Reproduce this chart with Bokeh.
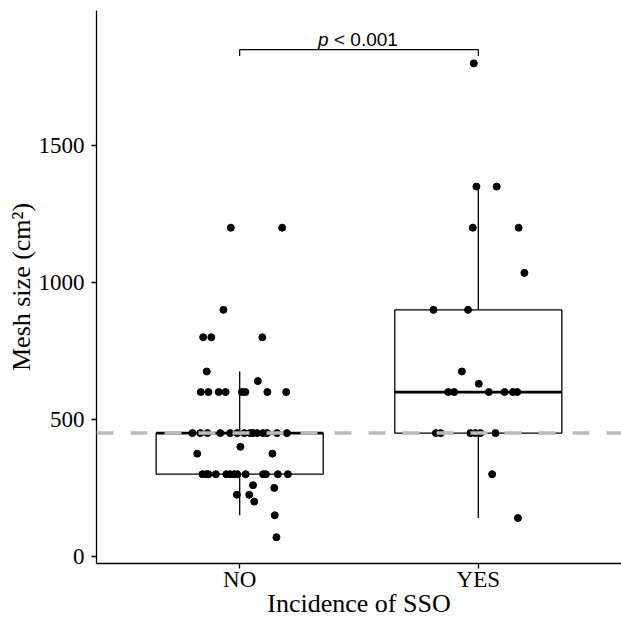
from bokeh.plotting import figure
from bokeh.models import Range1d, FixedTicker, ColumnDataSource, Span
from bokeh.core.properties import value
from bokeh.embed import file_html
from bokeh.resources import INLINE

# ---------------- data ----------------
categories = ["NO", "YES"]
cat_pos = [1, 2]

no_values = [1200, 1200, 900, 800, 800, 800, 675, 640,
             600, 600, 600, 600, 600, 600, 600, 600,
             450, 450, 450, 450, 450, 450, 450, 450, 450, 450, 450, 450, 450, 450,
             400, 375, 375,
             300, 300, 300, 300, 300, 300, 300, 300, 300, 300, 300, 300, 300,
             260, 250, 225, 225, 200, 150, 70]
no_jitter = [-0.037, 0.178, -0.068, -0.153, -0.119, 0.095, -0.138, 0.076,
             -0.163, -0.131, -0.088, -0.059, 0.009, 0.024, 0.116, 0.195,
             -0.198, -0.165, -0.135, -0.081, -0.040, -0.010, 0.019, 0.044, 0.056, 0.073, 0.098, 0.115, 0.156, 0.198,
             0.003, -0.178, 0.137,
             -0.156, -0.140, -0.131, -0.100, -0.056, -0.040, -0.023, -0.010, 0.025, 0.098, 0.110, 0.160, 0.202,
             0.056, 0.145, -0.012, 0.040, 0.061, 0.147, 0.154]

yes_values = [1800, 1350, 1350, 1200, 1200, 1035, 900, 900, 675, 630,
              600, 600, 600, 600, 600, 600,
              450, 450, 450, 450, 450, 450, 300, 140]
yes_jitter = [-0.019, -0.008, 0.077, -0.023, 0.169, 0.193, -0.188, -0.043, -0.069, 0.002,
              -0.126, -0.101, 0.044, 0.110, 0.145, 0.163,
              -0.178, -0.158, -0.033, -0.012, 0.009, 0.072, 0.058, 0.166]

# box statistics
q1 = [300, 450]
median = [450, 600]
q3 = [450, 900]
whisker_lo = [150, 140]
whisker_hi = [675, 1350]

reference_line = 450
bracket_y = 1850
bracket_tick_y = 1827
p_label_y = 1888

# ---------------- figure ----------------
p = figure(width=621, height=620,
           x_range=Range1d(0.4, 2.6), y_range=Range1d(-26, 1993),
           output_backend="svg", toolbar_location=None,
           min_border_left=96, min_border_right=0, min_border_top=10, min_border_bottom=0)
p.grid.visible = False
p.outline_line_color = None
p.background_fill_color = "white"
p.border_fill_color = "white"

box_w = 0.7
# whiskers
p.segment(x0=cat_pos, y0=q3, x1=cat_pos, y1=whisker_hi, line_color="black", line_width=1.3)
p.segment(x0=cat_pos, y0=q1, x1=cat_pos, y1=whisker_lo, line_color="black", line_width=1.3)
# boxes
p.vbar(x=cat_pos, width=box_w, top=q3, bottom=q1, fill_color="white",
       line_color="black", line_width=1.3)
# medians
p.segment(x0=[c - box_w / 2 for c in cat_pos], y0=median,
          x1=[c + box_w / 2 for c in cat_pos], y1=median,
          line_color="black", line_width=2.7)

# jittered points
src_no = ColumnDataSource(dict(x=[cat_pos[0] + j for j in no_jitter], y=no_values))
src_yes = ColumnDataSource(dict(x=[cat_pos[1] + j for j in yes_jitter], y=yes_values))
p.scatter("x", "y", source=src_no, size=7, fill_color="black", line_color="black")
p.scatter("x", "y", source=src_yes, size=7, fill_color="black", line_color="black")

# reference dashed line
p.add_layout(Span(location=reference_line, dimension="width", line_color="#BBBBBB",
                  line_width=3.5, line_dash="17 17"))

# significance bracket
p.multi_line(xs=[[cat_pos[0], cat_pos[0], cat_pos[1], cat_pos[1]]],
             ys=[[bracket_tick_y, bracket_y, bracket_y, bracket_tick_y]],
             line_color="black", line_width=1.2)
mid = (cat_pos[0] + cat_pos[1]) / 2
p.text(x=[mid], y=[p_label_y], text=["p"], text_font=value("Liberation Sans"),
       text_font_style="italic", text_font_size="19px", text_align="left",
       text_baseline="alphabetic", x_offset=-41, text_color="black")
p.text(x=[mid], y=[p_label_y], text=["< 0.001"], text_font=value("Liberation Sans"),
       text_font_size="19px", text_align="left",
       text_baseline="alphabetic", x_offset=-25, text_color="black")

# axes
for ax in (p.xaxis[0], p.yaxis[0]):
    ax.axis_line_color = "black"
    ax.axis_line_width = 1.3
    ax.major_tick_line_color = "black"
    ax.major_tick_line_width = 1.3
    ax.major_tick_in = 0
    ax.major_tick_out = 5
    ax.minor_tick_in = 0
    ax.minor_tick_out = 0
    ax.major_label_text_font = "Liberation Serif"
    ax.major_label_text_font_size = "23px"
    ax.major_label_text_color = "black"
    ax.axis_label_text_font = "Liberation Serif"
    ax.axis_label_text_font_size = "26px"
    ax.axis_label_text_font_style = "normal"
    ax.axis_label_text_color = "black"

p.xaxis.ticker = FixedTicker(ticks=cat_pos)
p.xaxis.major_label_overrides = {cat_pos[i]: categories[i] for i in range(2)}
p.xaxis.axis_label = "Incidence of SSO"
p.xaxis.major_label_standoff = -2
p.xaxis.axis_label_standoff = -6

p.yaxis.ticker = FixedTicker(ticks=[0, 500, 1000, 1500])
p.yaxis.axis_label = "Mesh size (cm²)"
p.yaxis.major_label_standoff = 7
p.yaxis.axis_label_standoff = 0

open("out.html", "w").write(file_html(p, INLINE))
